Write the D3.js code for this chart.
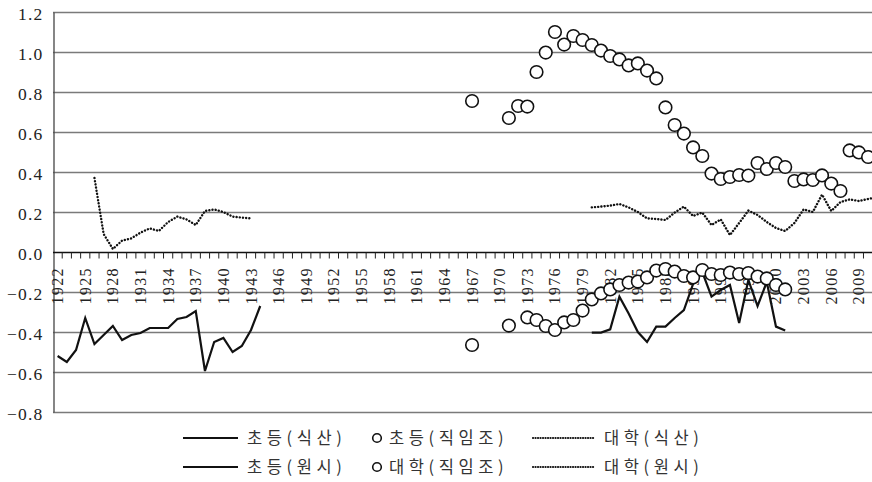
<!DOCTYPE html>
<html>
<head>
<meta charset="utf-8">
<script src="https://cdn.jsdelivr.net/npm/d3@7"></script>
<style>
  html, body { margin: 0; padding: 0; background: #fff; }
  svg { display: block; }
</style>
</head>
<body>
<svg id="chart" width="872" height="482"></svg>
<script>
// Year categories on the horizontal axis
const firstYear = 1922;
const lastYear = 2011;
const years = d3.range(firstYear, lastYear + 1);
const yTicks = [-0.8, -0.6, -0.4, -0.2, 0.0, 0.2, 0.4, 0.6, 0.8, 1.0, 1.2];

// 초등(식산): 1922–1944
const elemSiksanStart = 1922;
const elemSiksan = [-0.52, -0.55, -0.49, -0.33, -0.46, -0.415, -0.37, -0.44, -0.415, -0.405,
  -0.38, -0.38, -0.38, -0.335, -0.325, -0.295, -0.595, -0.45, -0.43, -0.50, -0.47, -0.39, -0.27];

// 대학(식산): 1926–1943
const univSiksanStart = 1926;
const univSiksan = [0.37, 0.09, 0.015, 0.057, 0.068, 0.097, 0.118, 0.105, 0.15, 0.177,
  0.163, 0.135, 0.205, 0.213, 0.20, 0.177, 0.172, 0.168];

// 초등(원시): 1980–2001
const elemWonsiStart = 1980;
const elemWonsi = [-0.403, -0.403, -0.387, -0.223, -0.307, -0.40, -0.45, -0.373, -0.373, -0.33,
  -0.29, -0.16, -0.10, -0.223, -0.19, -0.165, -0.355, -0.14, -0.27, -0.15, -0.373, -0.393];

// 대학(원시): 1980–2011
const univWonsiStart = 1980;
const univWonsi = [0.223, 0.227, 0.232, 0.24, 0.223, 0.20, 0.168, 0.165, 0.16, 0.197,
  0.227, 0.18, 0.197, 0.135, 0.163, 0.085, 0.145, 0.207, 0.185, 0.15,
  0.12, 0.105, 0.145, 0.213, 0.20, 0.287, 0.205, 0.25, 0.263, 0.255, 0.265, 0.275];

// 초등(직임조): 1967–2010
const elemJikStart = 1967;
const elemJik = [0.755, null, null, null, 0.67, 0.73, 0.727, 0.90, 0.997, 1.10,
  1.037, 1.08, 1.06, 1.035, 1.007, 0.98, 0.963, 0.933, 0.943, 0.907,
  0.868, 0.723, 0.635, 0.592, 0.523, 0.48, 0.392, 0.365, 0.375, 0.385,
  0.382, 0.445, 0.415, 0.445, 0.425, 0.355, 0.363, 0.36, 0.383, 0.342,
  0.305, 0.508, 0.498, 0.475];

// 대학(직임조): 1967–2001
const univJikStart = 1967;
const univJik = [-0.465, null, null, null, -0.368, null, -0.327, -0.34, -0.37, -0.39,
  -0.352, -0.34, -0.293, -0.237, -0.207, -0.187, -0.165, -0.153, -0.148, -0.127,
  -0.093, -0.085, -0.098, -0.12, -0.127, -0.09, -0.11, -0.115, -0.103, -0.11,
  -0.105, -0.123, -0.132, -0.165, -0.187];

const legendRows = [
  [{ label: "초등(식산)", kind: "solid" }, { label: "초등(직임조)", kind: "circle" }, { label: "대학(식산)", kind: "dotted" }],
  [{ label: "초등(원시)", kind: "solid" }, { label: "대학(직임조)", kind: "circle" }, { label: "대학(원시)", kind: "dotted" }]
];

const toPoints = (start, values) =>
  values.map((v, i) => ({ year: start + i, value: v }));

const svg = d3.select("#chart");
const W = 872, H = 482;
svg.append("rect").attr("width", W).attr("height", H).attr("fill", "#fff");

const plotLeft = 53;
const bandW = 9.21;
const x = d3.scaleBand()
  .domain(years)
  .range([plotLeft, plotLeft + years.length * bandW])
  .padding(0);
const xc = yr => x(yr) + x.bandwidth() / 2;

const y = d3.scaleLinear().domain([-0.8, 1.2]).range([412, 12]);

const serif = "'Liberation Serif', 'Times New Roman', serif";
const textColor = "#222";

// Horizontal gridlines
svg.append("g")
  .selectAll("line")
  .data(yTicks.filter(t => t !== 0))
  .join("line")
  .attr("x1", plotLeft).attr("x2", W)
  .attr("y1", d => Math.round(y(d)) + 0.5).attr("y2", d => Math.round(y(d)) + 0.5)
  .attr("stroke", "#7a7a7a").attr("stroke-width", 1.3);

// Vertical value axis
const yAxis = d3.axisLeft(y).tickValues(yTicks).tickSize(0).tickFormat(d3.format(".1f"));
const gy = svg.append("g").attr("transform", `translate(${plotLeft + 0.5},0)`).call(yAxis);
gy.select(".domain").attr("stroke", "#444").attr("stroke-width", 1.3);
gy.selectAll("text")
  .attr("x", -10).attr("dy", "0.42em")
  .attr("font-family", serif).attr("font-size", 17.5).attr("letter-spacing", 1.2)
  .attr("fill", textColor);

// Category axis crossing at zero, ticks between years
const gx = svg.append("g").attr("transform", `translate(0,${Math.round(y(0)) + 0.5})`);
gx.append("line")
  .attr("x1", plotLeft).attr("x2", W)
  .attr("stroke", "#111").attr("stroke-width", 1.3);
gx.selectAll("line.tick")
  .data(years)
  .join("line")
  .attr("class", "tick")
  .attr("x1", d => x(d) + bandW).attr("x2", d => x(d) + bandW)
  .attr("y1", 0).attr("y2", 6)
  .attr("stroke", "#222").attr("stroke-width", 1);

const tickLabels = years.filter((d, i) => i % 3 === 0);
svg.append("g")
  .selectAll("text")
  .data(tickLabels)
  .join("text")
  .attr("transform", d => `translate(${xc(d) + 5.5},267) rotate(-90)`)
  .attr("text-anchor", "end")
  .attr("font-family", serif).attr("font-size", 16).attr("letter-spacing", 1.4)
  .attr("fill", textColor)
  .text(d => d);

// Lines
const line = d3.line()
  .defined(d => d.value !== null)
  .x(d => xc(d.year))
  .y(d => y(d.value));

function drawSolid(points) {
  svg.append("path").datum(points)
    .attr("d", line)
    .attr("fill", "none").attr("stroke", "#111")
    .attr("stroke-width", 2.2).attr("stroke-linejoin", "miter");
}
function drawDotted(points) {
  svg.append("path").datum(points)
    .attr("d", line)
    .attr("fill", "none").attr("stroke", "#111")
    .attr("stroke-width", 2.4).attr("stroke-linecap", "round")
    .attr("stroke-dasharray", "0.1 3.1");
}
drawSolid(toPoints(elemSiksanStart, elemSiksan));
drawSolid(toPoints(elemWonsiStart, elemWonsi));
drawDotted(toPoints(univSiksanStart, univSiksan));
drawDotted(toPoints(univWonsiStart, univWonsi));

// Circle markers
function drawCircles(points) {
  svg.append("g")
    .selectAll("circle")
    .data(points.filter(d => d.value !== null))
    .join("circle")
    .attr("cx", d => xc(d.year)).attr("cy", d => y(d.value))
    .attr("r", 6.3)
    .attr("fill", "#fff").attr("stroke", "#111").attr("stroke-width", 1.6);
}
drawCircles(toPoints(elemJikStart, elemJik));
drawCircles(toPoints(univJikStart, univJik));

// Legend
const legendRowY = [438, 467];
const colSample = [183, 370, 533];
const colText = [247, 389, 604];
legendRows.forEach((row, r) => {
  const ly = legendRowY[r];
  row.forEach((item, c) => {
    const g = svg.append("g");
    if (item.kind === "solid") {
      g.append("line").attr("x1", colSample[c]).attr("x2", 238)
        .attr("y1", ly).attr("y2", ly)
        .attr("stroke", "#111").attr("stroke-width", 2.2);
    } else if (item.kind === "dotted") {
      g.append("line").attr("x1", colSample[c]).attr("x2", 595)
        .attr("y1", ly).attr("y2", ly)
        .attr("stroke", "#111").attr("stroke-width", 2.2)
        .attr("stroke-linecap", "round").attr("stroke-dasharray", "0.1 2.4");
    } else {
      g.append("circle").attr("cx", 377).attr("cy", ly).attr("r", 4.3)
        .attr("fill", "#fff").attr("stroke", "#111").attr("stroke-width", 1.6);
    }
    g.append("text")
      .attr("x", colText[c]).attr("y", ly + 6)
      .attr("font-family", "'Noto Sans CJK KR', 'Noto Sans', sans-serif")
      .attr("font-size", 16.5).attr("letter-spacing", 4.6)
      .attr("fill", "#333")
      .text(item.label);
  });
});
</script>
</body>
</html>
